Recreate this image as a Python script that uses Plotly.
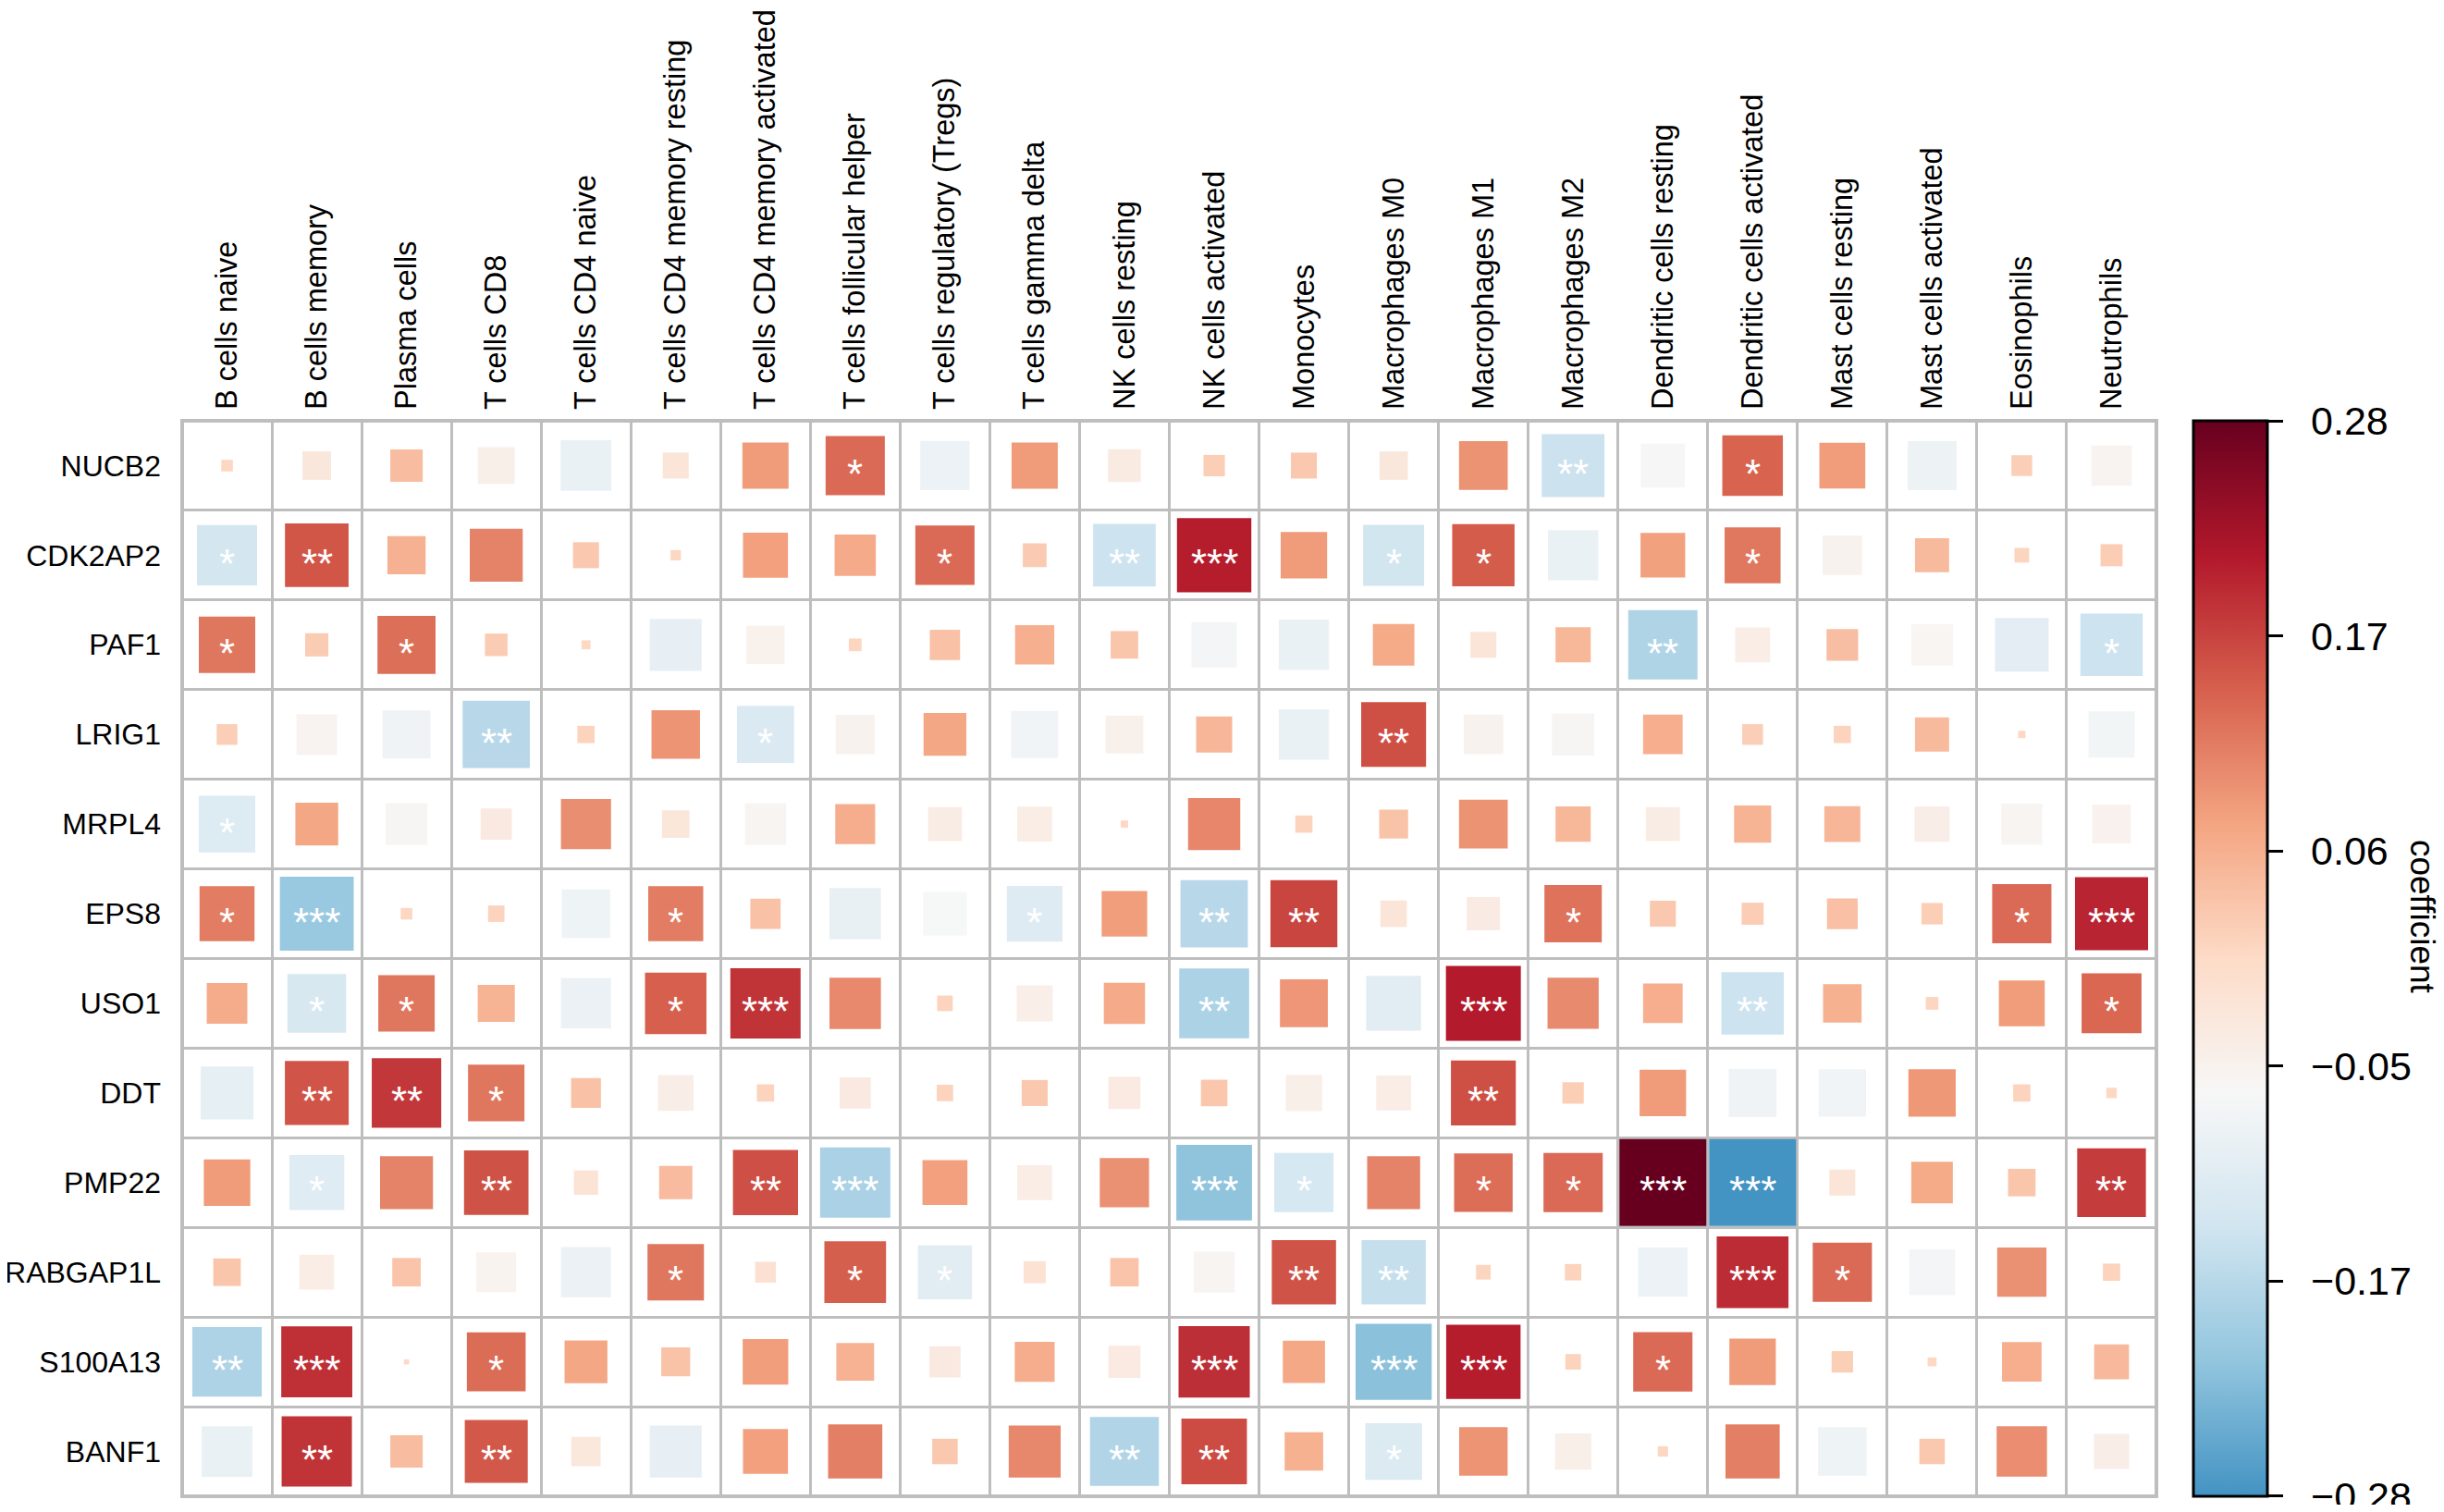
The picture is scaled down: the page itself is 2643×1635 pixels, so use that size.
import numpy as np
import plotly.graph_objects as go

genes = ["NUCB2", "CDK2AP2", "PAF1", "LRIG1", "MRPL4", "EPS8",
         "USO1", "DDT", "PMP22", "RABGAP1L", "S100A13", "BANF1"]

cells = ["B cells naive", "B cells memory", "Plasma cells", "T cells CD8",
         "T cells CD4 naive", "T cells CD4 memory resting",
         "T cells CD4 memory activated", "T cells follicular helper",
         "T cells regulatory (Tregs)", "T cells gamma delta",
         "NK cells resting", "NK cells activated", "Monocytes",
         "Macrophages M0", "Macrophages M1", "Macrophages M2",
         "Dendritic cells resting", "Dendritic cells activated",
         "Mast cells resting", "Mast cells activated", "Eosinophils",
         "Neutrophils"]

# coefficient per gene (one value per immune cell type, same order as cells)
nucb2 = [0.005, -0.03, 0.039, -0.05, -0.095, -0.025, 0.079, 0.13, -0.09, 0.079, -0.04,
         0.017, 0.025, -0.03, 0.088, -0.146, -0.072, 0.136, 0.078, -0.089, 0.016, -0.06]
cdk2ap2 = [-0.134, 0.15, 0.054, 0.104, 0.025, 0.004, 0.075, 0.063, 0.13, 0.021, -0.145,
           0.205, 0.08, -0.138, 0.144, -0.094, 0.074, 0.116, -0.058, 0.043, 0.008, 0.018]
paf1 = [0.118, 0.02, 0.125, 0.019, 0.003, -0.1, -0.054, 0.006, 0.034, 0.057, 0.028,
        -0.076, -0.094, 0.064, -0.025, 0.046, -0.178, -0.045, 0.037, -0.064, -0.107, -0.144]
lrig1 = [0.016, -0.061, -0.085, -0.168, 0.011, 0.087, -0.121, -0.057, 0.068, -0.082, -0.053,
         0.048, -0.094, 0.156, -0.058, -0.066, 0.058, 0.016, 0.011, 0.043, 0.002, -0.079]
mrpl4 = [-0.118, 0.068, -0.065, -0.036, 0.093, -0.028, -0.063, 0.059, -0.043, -0.045, 0.002,
         0.101, 0.011, 0.031, 0.088, 0.046, -0.043, 0.051, 0.048, -0.046, -0.062, -0.055]
eps8 = [0.112, -0.202, 0.005, 0.01, -0.087, 0.112, 0.034, -0.098, -0.071, -0.115, 0.077,
        -0.168, 0.166, -0.026, -0.041, 0.122, 0.025, 0.018, 0.035, 0.017, 0.13, 0.198]
uso1 = [0.061, -0.128, 0.118, 0.051, -0.093, 0.14, 0.183, 0.098, 0.009, -0.048, 0.063,
        -0.181, 0.085, -0.111, 0.208, 0.097, 0.058, -0.144, 0.055, 0.006, 0.078, 0.133]
ddt = [-0.103, 0.151, 0.179, 0.118, 0.033, -0.047, 0.011, -0.036, 0.01, 0.025, -0.038,
       0.026, -0.049, -0.045, 0.156, 0.017, 0.08, -0.085, -0.083, 0.083, 0.011, 0.004]
pmp22 = [0.08, -0.112, 0.104, 0.154, -0.022, 0.041, 0.157, -0.183, 0.075, -0.045, 0.09,
         -0.212, -0.13, 0.104, 0.127, 0.13, 0.28, -0.28, -0.025, 0.064, 0.028, 0.175]
rabgap1l = [0.028, -0.045, 0.03, -0.059, -0.093, 0.118, -0.016, 0.141, -0.109, -0.018, 0.03,
            -0.062, 0.153, -0.153, 0.008, 0.01, -0.09, 0.191, 0.13, -0.078, 0.09, 0.011]
s100a13 = [-0.179, 0.187, 0.001, 0.128, 0.068, 0.031, 0.077, 0.053, -0.036, 0.059, -0.038,
           0.188, 0.066, -0.215, 0.205, 0.009, 0.13, 0.08, 0.017, 0.003, 0.058, 0.045]
banf1 = [-0.095, 0.183, 0.039, 0.147, -0.032, -0.1, 0.075, 0.109, 0.024, 0.1, -0.176,
         0.159, 0.055, -0.119, 0.087, -0.049, 0.004, 0.109, -0.087, 0.024, 0.094, -0.046]

# significance marks: {cell number (1-based): stars}
sig_nucb2 = {8: "*", 16: "**", 18: "*"}
sig_cdk2ap2 = {1: "*", 2: "**", 9: "*", 11: "**", 12: "***", 14: "*", 15: "*", 18: "*"}
sig_paf1 = {1: "*", 3: "*", 17: "**", 22: "*"}
sig_lrig1 = {4: "**", 7: "*", 14: "**"}
sig_mrpl4 = {1: "*"}
sig_eps8 = {1: "*", 2: "***", 6: "*", 10: "*", 12: "**", 13: "**", 16: "*", 21: "*", 22: "***"}
sig_uso1 = {2: "*", 3: "*", 6: "*", 7: "***", 12: "**", 15: "***", 18: "**", 22: "*"}
sig_ddt = {2: "**", 3: "**", 4: "*", 15: "**"}
sig_pmp22 = {2: "*", 4: "**", 7: "**", 8: "***", 12: "***", 13: "*", 15: "*", 16: "*",
             17: "***", 18: "***", 22: "**"}
sig_rabgap1l = {6: "*", 8: "*", 9: "*", 13: "**", 14: "**", 18: "***", 19: "*"}
sig_s100a13 = {1: "**", 2: "***", 4: "*", 12: "***", 14: "***", 15: "***", 17: "*"}
sig_banf1 = {2: "**", 4: "**", 11: "**", 12: "**", 14: "*"}

cbar_vals = [-0.2799, -0.168, -0.056, 0.056, 0.168, 0.2799]
cbar_text = ["\u22120.28", "\u22120.17", "\u22120.05", "0.06", "0.17", "0.28"]

coef = [nucb2, cdk2ap2, paf1, lrig1, mrpl4, eps8, uso1, ddt, pmp22, rabgap1l, s100a13, banf1]
sigs = [sig_nucb2, sig_cdk2ap2, sig_paf1, sig_lrig1, sig_mrpl4, sig_eps8, sig_uso1,
        sig_ddt, sig_pmp22, sig_rabgap1l, sig_s100a13, sig_banf1]

lim = 0.28
cell_px = 94  # inner size of one grid cell in pixels

# RdBu (brewer) from mid blue up to dark red
colorscale = [
    [0.0, "#4393C3"], [0.125, "#92C5DE"], [0.25, "#D1E5F0"], [0.375, "#F7F7F7"],
    [0.5, "#FDDBC7"], [0.625, "#F4A582"], [0.75, "#D6604D"], [0.875, "#B2182B"],
    [1.0, "#67001F"],
]

xs, ys, vs = [], [], []
for i, row in enumerate(coef):
    for j, v in enumerate(row):
        xs.append(j + 1)
        ys.append(i + 1)
        vs.append(v)
vs = np.array(vs)
sizes = cell_px * np.sqrt(np.abs(vs) / lim)

font = "Liberation Sans, Arial, Helvetica, sans-serif"

fig = go.Figure()
fig.add_trace(go.Scatter(
    x=xs, y=ys, mode="markers", hoverinfo="skip",
    marker=dict(
        symbol="square", size=sizes, color=vs, colorscale=colorscale,
        cmin=-lim, cmax=lim, line=dict(width=0), opacity=1,
        showscale=True,
        colorbar=dict(
            x=1.0187, xanchor="left", xpad=0, y=0.5, yanchor="middle", ypad=0,
            len=1, lenmode="fraction", thickness=80, thicknessmode="pixels",
            outlinewidth=3, outlinecolor="black",
            tickmode="array", tickvals=cbar_vals,
            ticktext=["\u2002" + t for t in cbar_text],
            ticks="outside", ticklen=16, tickwidth=2.5, tickcolor="black",
            ticklabeloverflow="allow",
            tickfont=dict(family=font, size=43, color="black"),
        ),
    ),
))

# significance stars
for i, sig in enumerate(sigs):
    for col, txt in sig.items():
        fig.add_annotation(x=col, y=i + 1, text=txt, showarrow=False,
                           font=dict(family=font, size=44, color="white"),
                           xanchor="center", yanchor="middle", yshift=-9)

fig.add_annotation(x=1.135, y=0.539, xref="paper", yref="paper", text="coefficient",
                   textangle=90, showarrow=False, xanchor="center", yanchor="middle",
                   font=dict(family=font, size=37, color="black"))

fig.add_shape(type="rect", xref="paper", yref="paper", x0=0, x1=1, y0=0, y1=1,
              line=dict(color="#BEBEBE", width=4), layer="below")

fig.update_xaxes(
    range=[0.5, len(cells) + 0.5], side="top", tickmode="array",
    tickvals=list(range(1, len(cells) + 1)), ticktext=cells, tickangle=-90,
    tickfont=dict(family=font, size=32.5, color="black"), ticks="",
    ticklabelstandoff=11, showgrid=False, zeroline=False, showline=False,
    automargin=False,
    minor=dict(tick0=0.5, dtick=1, showgrid=True, gridcolor="#BEBEBE", gridwidth=3, ticks=""),
)
fig.update_yaxes(
    range=[len(genes) + 0.5, 0.5], tickmode="array",
    tickvals=list(range(1, len(genes) + 1)), ticktext=genes,
    tickfont=dict(family=font, size=32, color="black"), ticks="",
    ticklabelstandoff=22, showgrid=False, zeroline=False, showline=False,
    automargin=False,
    minor=dict(tick0=0.5, dtick=1, showgrid=True, gridcolor="#BEBEBE", gridwidth=3, ticks=""),
)

fig.update_layout(
    width=2627, height=1619,
    margin=dict(l=189, r=303, t=447, b=9),
    plot_bgcolor="white", paper_bgcolor="white",
    showlegend=False,
)

fig.write_html("out.html")
